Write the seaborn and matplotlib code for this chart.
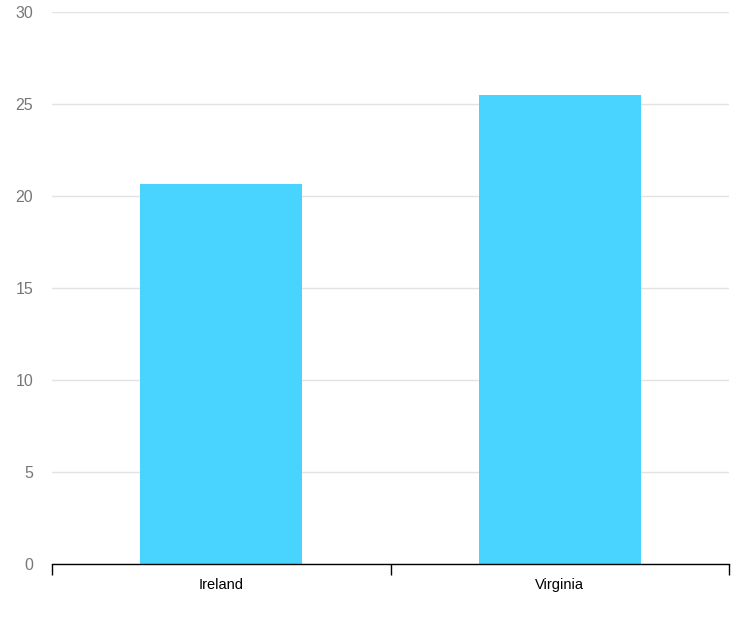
import matplotlib
matplotlib.use("Agg")
import matplotlib.pyplot as plt
import seaborn as sns
import pandas as pd

categories = ["Ireland", "Virginia"]
values = [20.65, 25.5]

sns.set_style("white")
plt.rcParams['font.family'] = ['Liberation Sans', 'DejaVu Sans']

df = pd.DataFrame({"Region": categories, "Value": values})

fig = plt.figure(figsize=(7.54, 6.28), dpi=100)
ax = fig.add_axes([52 / 754, 1 - 564 / 628, (729 - 52) / 754, (564 - 12) / 628])

sns.barplot(data=df, x="Region", y="Value", color="#48D4FF", width=0.478,
            saturation=1, linewidth=0, ax=ax, zorder=3)

ax.set_ylim(0, 30)
ax.set_xlim(-0.5, 1.5)
ax.set_yticks(range(0, 31, 5))
ax.yaxis.grid(True, color="#e3e3e3", linewidth=1, zorder=0)
ax.set_axisbelow(True)

# category boundary ticks on major, labels on minor
ax.set_xticks([-0.5, 0.5, 1.5])
ax.set_xticklabels([])
ax.set_xticks([0, 1], minor=True)
ax.set_xticklabels(categories, minor=True)
ax.tick_params(axis="x", which="major", bottom=True, length=8, width=1,
               color="black", direction="out")
ax.tick_params(axis="x", which="minor", bottom=True, length=0, pad=10,
               labelsize=10.5, labelcolor="black")
ax.tick_params(axis="y", length=0, pad=13.5, labelsize=11.5, labelcolor="#777777")

for s in ["top", "right", "left"]:
    ax.spines[s].set_visible(False)
ax.spines["bottom"].set_color("black")
ax.spines["bottom"].set_linewidth(1)
ax.spines["bottom"].set_zorder(4)

ax.set_xlabel("")
ax.set_ylabel("")

fig.savefig("out.png", dpi=100)
